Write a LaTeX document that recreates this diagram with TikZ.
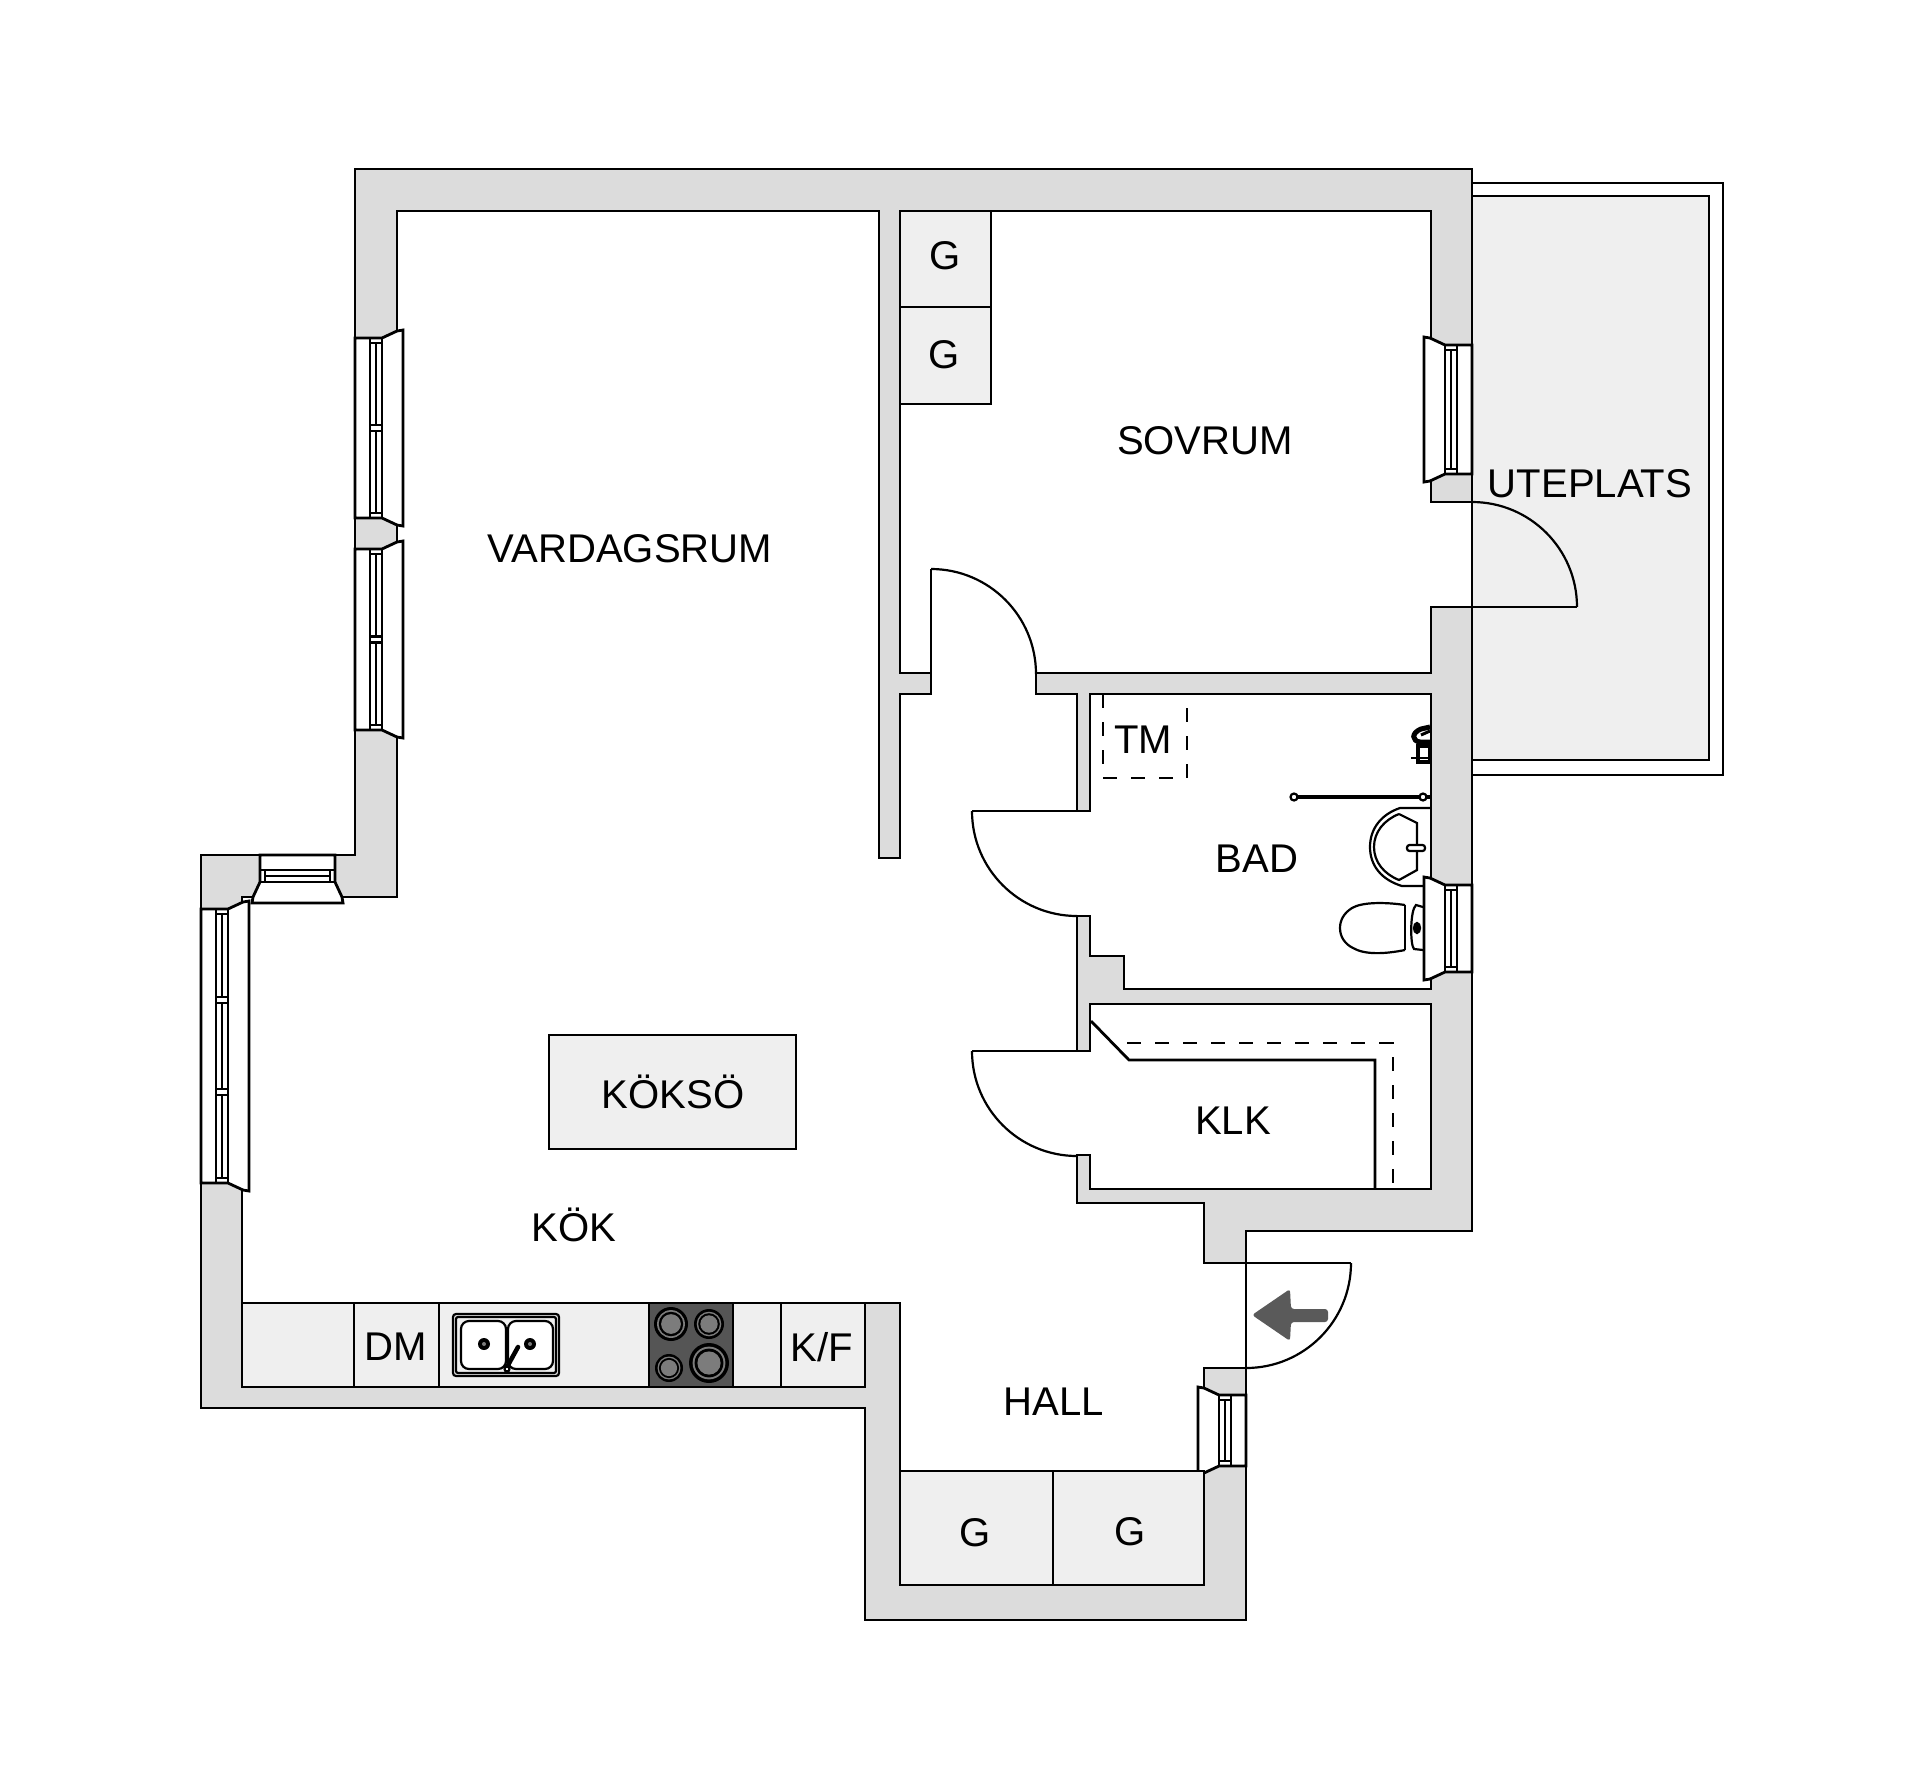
\documentclass[tikz,border=0pt]{standalone}
\usepackage{fontspec}
\setmainfont{Liberation Sans}
\definecolor{wallgray}{HTML}{DCDCDC}
\definecolor{unitgray}{HTML}{EFEFEF}
\definecolor{hobgray}{HTML}{555555}
\definecolor{ringgray}{HTML}{7C7C7C}
\definecolor{arrowgray}{HTML}{5A5A5A}
\tikzset{
  plan/.style={draw=black,line width=0.028cm,line join=miter},
  thinplan/.style={draw=black,line width=0.022cm},
  unitbox/.style={plan,fill=unitgray},
  dashplan/.style={draw=black,line width=0.024cm,dash pattern=on 0.14cm off 0.14cm},
  roomlabel/.style={inner sep=0pt,font=\fontsize{11.4pt}{13pt}\selectfont},
  winleft/.style={x={(0.01cm,0cm)},y={(0cm,-0.01cm)}},
  winright/.style={x={(-0.01cm,0cm)},y={(0cm,-0.01cm)}},
  wintop/.style={x={(0cm,-0.01cm)},y={(0.01cm,0cm)}},
}
% window in local coordinates: first from the outer face, second along the wall
\newcommand{\drawwindow}[2]{
  \draw[plan,fill=white] (0,0) -- (27,0) -- (42,-7) -- (48,-8) -- (48,#1+8) -- (42,#1+7) -- (27,#1) -- (0,#1) -- cycle;
  \draw[plan] (15,0) -- (15,#1) (27,0) -- (27,#1);
  \draw[thinplan] (21,5) -- (21,#1-5) (15,5) -- (27,5) (15,#1-5) -- (27,#1-5);
  \ifnum#2>1
    \foreach \k in {2,...,#2} {
      \pgfmathsetmacro{\barpos}{#1*(\k-1)/#2}
      \draw[thinplan,fill=white] (15,\barpos-3) rectangle (27,\barpos+3);
    }
  \fi
}
\begin{document}
\begin{tikzpicture}[x=0.01cm,y=-0.01cm]
  \useasboundingbox (0,0) rectangle (1920,1787);
  % terrace
  \draw[thinplan,fill=white] (1472,183) rectangle (1723,775);
  \draw[plan,fill=unitgray] (1472,196) rectangle (1709,760);
  % walls and rooms
  \draw[plan,fill=wallgray] (355,169) -- (1472,169) -- (1472,1231) -- (1246,1231) -- (1246,1620)
    -- (865,1620) -- (865,1408) -- (201,1408) -- (201,855) -- (355,855) -- cycle;
  \draw[plan,fill=white] (397,211) -- (879,211) -- (879,858) -- (900,858) -- (900,694) -- (931,694)
    -- (931,673) -- (900,673) -- (900,211) -- (1431,211) -- (1431,502) -- (1472,502) -- (1472,607)
    -- (1431,607) -- (1431,673) -- (1036,673) -- (1036,694) -- (1077,694) -- (1077,811) -- (1090,811)
    -- (1090,694) -- (1431,694) -- (1431,989) -- (1124,989) -- (1124,956) -- (1090,956) -- (1090,916)
    -- (1077,916) -- (1077,1051) -- (1090,1051) -- (1090,1004) -- (1431,1004) -- (1431,1189)
    -- (1090,1189) -- (1090,1155) -- (1077,1155) -- (1077,1203) -- (1204,1203) -- (1204,1263)
    -- (1246,1263) -- (1246,1368) -- (1204,1368) -- (1204,1471) -- (900,1471) -- (900,1303)
    -- (242,1303) -- (242,897) -- (397,897) -- cycle;
  % doors
  \draw[plan] (931,673) -- (931,569);
  \draw[thinplan] (931,569) arc[start angle=-90,end angle=0,radius=105];
  \draw[plan] (1472,607) -- (1577,607);
  \draw[thinplan] (1577,607) arc[start angle=0,end angle=-90,radius=105];
  \draw[plan] (1077,811) -- (972,811);
  \draw[thinplan] (972,811) arc[start angle=180,end angle=90,radius=105];
  \draw[plan] (1077,1051) -- (972,1051);
  \draw[thinplan] (972,1051) arc[start angle=180,end angle=90,radius=105];
  \draw[plan] (1246,1263) -- (1351,1263);
  \draw[thinplan] (1351,1263) arc[start angle=0,end angle=90,radius=105];
  \fill[arrowgray,rounded corners=0.03cm] (1252,1315) -- (1290,1289) -- (1291,1309) -- (1328,1309)
    -- (1328,1322) -- (1291,1322) -- (1290,1341) -- cycle;
  % windows
  \foreach \ox/\oy/\wlen/\wpanes/\wside in {355/338/180/2/winleft,355/549/181/2/winleft,
      201/909/274/3/winleft,1472/345/129/1/winright,1472/885/87/1/winright,
      1246/1395/71/1/winright,260/855/75/1/wintop} {
    \begin{scope}[shift={(\ox,\oy)},\wside]
      \drawwindow{\wlen}{\wpanes}
    \end{scope}
  }
  % cupboards
  \draw[unitbox] (900,211) rectangle (991,307);
  \draw[unitbox] (900,307) rectangle (991,404);
  \draw[unitbox] (900,1471) rectangle (1053,1585);
  \draw[unitbox] (1053,1471) rectangle (1204,1585);
  % kitchen island and counter
  \draw[unitbox] (549,1035) rectangle (796,1149);
  \draw[unitbox] (242,1303) rectangle (865,1387);
  \foreach \cutx in {354,439,781} \draw[plan] (\cutx,1303) -- (\cutx,1387);
  \draw[plan,fill=hobgray] (649,1303) rectangle (733,1387);
  \foreach \bx/\by/\br in {671/1324/17,709/1324/15,669/1368/14,709/1363/20} {
    \fill[black] (\bx,\by) circle[radius=\br];
    \fill[ringgray] (\bx,\by) circle[radius=0.82*\br];
    \fill[black] (\bx,\by) circle[radius=0.72*\br];
    \fill[ringgray] (\bx,\by) circle[radius=0.58*\br];
  }
  % sink
  \draw[thinplan,fill=unitgray,rounded corners=0.03cm] (453,1314) rectangle (559,1376);
  \draw[thinplan,rounded corners=0.02cm] (456,1317) rectangle (556,1373);
  \foreach \sx/\dx in {461/484,508/530} {
    \draw[thinplan,fill=white,rounded corners=0.08cm] (\sx,1321) rectangle (\sx+45,1369);
    \fill[black] (\dx,1344) circle[radius=6];
    \fill[ringgray] (\dx,1344) circle[radius=2];
  }
  \draw[black,line width=0.045cm,line cap=round] (507,1367) -- (518,1347);
  \draw[thinplan,fill=white] (507,1369) circle[radius=2.5];
  % shelves in the closet
  \draw[plan] (1091,1021) -- (1129,1060) -- (1375,1060) -- (1375,1189);
  \draw[dashplan] (1127,1043) -- (1393,1043) -- (1393,1189);
  % bath fittings
  \draw[dashplan] (1103,694) -- (1103,778) -- (1187,778) -- (1187,708);
  \draw[black,line width=0.04cm] (1293,797) -- (1430,797);
  \draw[thinplan,fill=white] (1294,797) circle[radius=3.5];
  \draw[thinplan,fill=white] (1423,797) circle[radius=3.5];
  \draw[thinplan] (1431,808) -- (1400,808) .. controls (1382,814) and (1370,828) .. (1370,847)
    .. controls (1370,866) and (1382,880) .. (1402,886) -- (1423,886);
  \draw[thinplan] (1399,814) -- (1417,823) -- (1417,870) -- (1399,880)
    .. controls (1384,874) and (1374,862) .. (1374,847) .. controls (1374,832) and (1384,820) .. (1399,814);
  \draw[thinplan,fill=white,rounded corners=0.025cm] (1407,845) rectangle (1425,851);
  \draw[thinplan] (1405,905) .. controls (1385,902) and (1362,902) .. (1352,908)
    .. controls (1344,913) and (1340,920) .. (1340,928) .. controls (1340,937) and (1345,944) .. (1353,948)
    .. controls (1365,955) and (1385,954) .. (1405,950);
  \draw[thinplan] (1405,905) -- (1405,950);
  \draw[thinplan] (1423,907) -- (1416,905) .. controls (1410,910) and (1410,945) .. (1414,949) -- (1423,950);
  \draw[thinplan,fill=black] (1417,928) ellipse[x radius=3,y radius=5];
  % shower mixer
  \draw[black,line width=0.05cm] (1430,727) -- (1421,729) .. controls (1411,733) and (1412,741) .. (1420,742) -- (1430,742);
  \draw[black,line width=0.03cm] (1421,735) -- (1430,731);
  \draw[black,line width=0.035cm,fill=white] (1418,746) rectangle (1430,762);
  \draw[thinplan] (1411,758) -- (1430,758);
  % room names
  \node[roomlabel] (vardagsrum) at (630,549) {VARDAGSRUM};
  \node[roomlabel] (sovrum) at (1205,441) {SOVRUM};
  \node[roomlabel] (uteplats) at (1590,484) {UTEPLATS};
  \node[roomlabel] (bad) at (1257,859) {BAD};
  \node[roomlabel] (tm) at (1143,740) {TM};
  \node[roomlabel] (klk) at (1233,1121) {KLK};
  \node[roomlabel] (koksoe) at (673,1092) {KÖKSÖ};
  \node[roomlabel] (koek) at (574,1225) {KÖK};
  \node[roomlabel] (hall) at (1054,1402) {HALL};
  \node[roomlabel] (dm) at (396,1347) {DM};
  \node[roomlabel] (kf) at (822,1347) {K/F};
  \node[roomlabel] (gtopa) at (945,256) {G};
  \node[roomlabel] (gtopb) at (944,355) {G};
  \node[roomlabel] (ghalla) at (975,1533) {G};
  \node[roomlabel] (ghallb) at (1130,1532) {G};
\end{tikzpicture}
\end{document}
